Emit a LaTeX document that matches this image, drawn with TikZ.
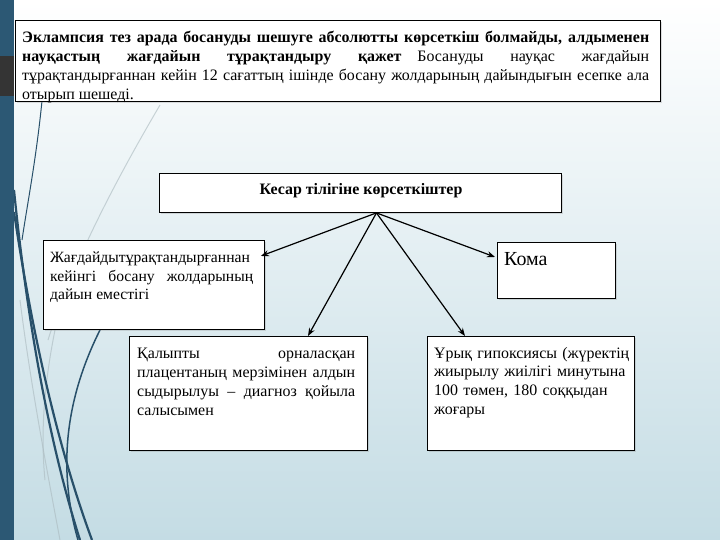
\documentclass[tikz,border=0pt]{standalone}
\usepackage{fontspec}
\setmainfont{Liberation Serif}
\usetikzlibrary{arrows.meta,calc}
\definecolor{bgbot}{RGB}{196,220,228}
\definecolor{strip}{RGB}{44,88,116}
\definecolor{stripgray}{RGB}{52,52,52}
\definecolor{curvedark}{RGB}{40,80,106}
\definecolor{curvelight}{RGB}{170,185,190}
\begin{document}
\begin{tikzpicture}[x=1bp,y=-1bp,
  box/.style={draw=black, line width=0.9bp, fill=white, anchor=north west, inner sep=0pt},
  boxshadow/.style={gray, opacity=0.25},
  txt/.style={anchor=north west, inner sep=0pt, align=justify, font=\fontsize{16}{19}\selectfont},
  rag/.style={anchor=north west, inner sep=0pt, align=left, font=\fontsize{16}{18.7}\selectfont},
  arr/.style={line width=1.2bp, -{Stealth[length=8bp,width=6bp]}},
  deco/.style={curvedark, line width=2.2bp},
  decothin/.style={curvedark, line width=1bp},
  decolight/.style={curvelight, line width=1bp, opacity=0.6}
]
\useasboundingbox (0,0) rectangle (720,540);
% background
\shade[top color=white, bottom color=bgbot] (0,0) rectangle (720,540);
% decorative curves
\draw[decolight] (160,105) .. controls (110,190) and (70,270) .. (48,340);
\draw[decolight] (20,300) .. controls (30,380) and (45,460) .. (60,540);
\draw[decolight] (55,330) .. controls (45,380) and (40,430) .. (45,480);
\draw[decothin] (42,101) .. controls (36,160) and (28,200) .. (22,240);
\draw[deco] (14,190) .. controls (25,300) and (45,430) .. (80,540);
\draw[deco] (14,212) .. controls (30,320) and (55,440) .. (92,540);
\draw[decothin, line width=1.5bp] (100,330) .. controls (70,390) and (55,460) .. (78,540);
% left strip
\fill[strip] (0,0) rectangle (14,540);
\fill[stripgray] (0,56) rectangle (14,96);

% faint shadows of the boxes
\fill[boxshadow] (17,22) rectangle (662,103);
\fill[boxshadow] (161,175) rectangle (563,214);
\fill[boxshadow] (45,242) rectangle (266,331);
\fill[boxshadow] (499,244) rectangle (617,300);
\fill[boxshadow] (131,338) rectangle (369,452);
\fill[boxshadow] (429,338) rectangle (636,452);

% top box
\node[box, minimum width=645bp, minimum height=81bp] (topbox) at (15,20) {};
\node[txt, text width=627bp] (toptext) at ($(topbox.north west)+(7,11)$)
 {\textbf{Эклампсия тез арада босануды шешуге абсолютты көрсеткіш болмайды, алдыменен}\linebreak
  \textbf{науқастың жағдайын тұрақтандыру қажет}\quad Босануды науқас жағдайын\linebreak
  тұрақтандырғаннан кейін 12 сағаттың ішінде босану жолдарының дайындығын есепке ала\linebreak
  отырып шешеді.};

% title
\node[box, minimum width=402bp, minimum height=39bp] (title) at (159,173) {};
\node[anchor=base, inner sep=0pt, font=\fontsize{16}{19}\selectfont\bfseries] (titletext) at (361,195) {Кесар тілігіне көрсеткіштер};

% left box
\node[box, minimum width=221bp, minimum height=89bp] (lbox) at (43,240) {};
\node[txt, text width=203bp, font=\fontsize{15.7}{18.5}\selectfont] (ltext) at ($(lbox.north west)+(7,12)$)
 {Жағдайдытұрақтандырғаннан\\
  кейінгі босану жолдарының\linebreak
  дайын еместігі};

% Кома box
\node[box, minimum width=118bp, minimum height=56bp] (kbox) at (497,242) {};
\node[anchor=base west, inner sep=0pt, font=\fontsize{20}{24}\selectfont] (ktext) at (504,266) {Кома};

% middle box
\node[box, minimum width=238bp, minimum height=114bp] (mbox) at (129,336) {};
\node[txt, text width=218bp] (mtext) at ($(mbox.north west)+(8,12)$)
 {Қалыпты орналасқан\linebreak
  плацентаның мерзімінен алдын\linebreak
  сыдырылуы -- диагноз қойыла\linebreak
  салысымен};

% right box
\node[box, minimum width=207bp, minimum height=114bp] (rbox) at (427,336) {};
\node[rag, text width=200bp] (rtext) at ($(rbox.north west)+(7,11)$)
 {Ұрық гипоксиясы (жүректің\\
  жиырылу жиілігі минутына\\
  100 төмен, 180 соққыдан\\
  жоғары};

% arrows
\coordinate (src) at ($(title.south)+(16,0)$);
\draw[arr] (src) -- ($(lbox.north east)+(-4,16)$);
\draw[arr] (src) -- ($(mbox.north west)+(179,0)$);
\draw[arr] (src) -- ($(kbox.north west)+(-2,15)$);
\draw[arr] (src) -- ($(rbox.north west)+(38,0)$);
\end{tikzpicture}
\end{document}
